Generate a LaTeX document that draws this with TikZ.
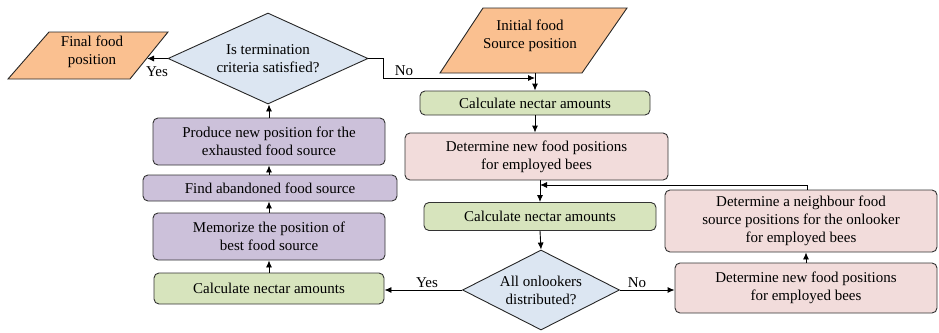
\documentclass[tikz,border=0pt]{standalone}
\usepackage{fontspec}
\setmainfont{Liberation Serif}
\newfontfamily\serf{Liberation Serif}
\usetikzlibrary{shapes.geometric,arrows.meta}
\definecolor{cOrange}{HTML}{FAC090}
\definecolor{cBlue}{HTML}{DCE6F2}
\definecolor{cGreen}{HTML}{D7E4BD}
\definecolor{cPink}{HTML}{F2DCDB}
\definecolor{cPurple}{HTML}{CCC1DA}
\begin{document}
\begin{tikzpicture}[x=1pt,y=-1pt,font=\serf\fontsize{15}{18}\selectfont,
  box/.style={draw=black!80,line width=0.9pt,rounded corners=5pt,align=center,inner sep=0pt},
  dec/.style={diamond,draw=black!85,line width=0.9pt,fill=cBlue,align=center,inner sep=0pt},
  para/.style={draw=black!85,line width=0.9pt,fill=cOrange},
  arr/.style={-{Latex[length=7pt,width=6pt]},line width=0.9pt},
  lbl/.style={inner sep=1pt}]
\useasboundingbox (0,0) rectangle (939,332);
% parallelograms
\draw[para] (8,79) -- (49,32) -- (168,32) -- (130,79) -- cycle;
\node[align=center,inner sep=0pt] (ff) at (92,52) {Final food\\position};
\draw[para] (440,73) -- (483,8) -- (627,8) -- (582,73) -- cycle;
\node[align=center,inner sep=0pt] (inf) at (530,36) {Initial food\\Source position};
\coordinate (ffR) at (147,58.5);
\coordinate (infB) at (535,73);
\coordinate (j1) at (535,78);
% diamonds
\node[dec,aspect=2.2,minimum width=200pt,minimum height=91pt] (dia1) at (268,58.5) {Is termination\\criteria satisfied?};
\node[dec,aspect=2,minimum width=157pt,minimum height=80pt] (dia2) at (541,290) {All onlookers\\distributed?};
% right column
\node[box,fill=cGreen,minimum width=230pt,minimum height=24pt] (calc1) at (535,103) {Calculate nectar amounts};
\node[box,fill=cPink,minimum width=263pt,minimum height=47pt] (det1) at (536.5,156.5) {Determine new food positions\\for employed bees};
\node[box,fill=cGreen,minimum width=232pt,minimum height=28pt] (calc2) at (540,216.5) {Calculate nectar amounts};
\node[box,fill=cPink,minimum width=272pt,minimum height=62pt] (nb) at (801,221) {Determine a neighbour food\\source positions for the onlooker\\for employed bees};
\node[box,fill=cPink,minimum width=262pt,minimum height=50pt] (det2) at (806,288) {Determine new food positions\\for employed bees};
\coordinate (j2) at (540,185);
% left column
\node[box,fill=cPurple,minimum width=232pt,minimum height=47pt] (prod) at (269,141.5) {Produce new position for the\\exhausted food source};
\node[box,fill=cPurple,minimum width=254pt,minimum height=26pt] (find) at (270,188) {Find abandoned food source};
\node[box,fill=cPurple,minimum width=232pt,minimum height=47pt] (mem) at (269,236.5) {Memorize the position of\\best food source};
\node[box,fill=cGreen,minimum width=230pt,minimum height=31pt] (calc3) at (269,288.5) {Calculate nectar amounts};
% connectors
\draw[arr] (dia1.west) -- (ffR);
\node[lbl] at (157,72) {Yes};
\draw[arr] (dia1.east) -- ++(15,0) |- (j1);
\node[lbl] at (404,71) {No};
\draw[arr] (infB) -- (calc1.north -| infB);
\draw[arr] (calc1.south -| infB) -- (det1.north -| infB);
\draw[arr] (det1.south -| calc2.north) -- (calc2.north);
\draw[arr] ([xshift=6pt]nb.north) |- (j2);
\draw[arr] (calc2.south) -- (dia2.north);
\draw[arr] (dia2.west) -- (dia2.west -| calc3.east);
\node[lbl] at (427,283) {Yes};
\draw[arr] (dia2.east) -- (dia2.east -| det2.west);
\node[lbl] at (637,283) {No};
\draw[arr] (det2.north) -- (det2.north |- nb.south);
\draw[arr] (calc3.north) -- (calc3.north |- mem.south);
\draw[arr] (mem.north) -- (mem.north |- find.south);
\draw[arr] (find.north -| prod.north) -- (prod.south);
\draw[arr] (prod.north) -- (prod.north |- dia1.south);
\end{tikzpicture}
\end{document}
